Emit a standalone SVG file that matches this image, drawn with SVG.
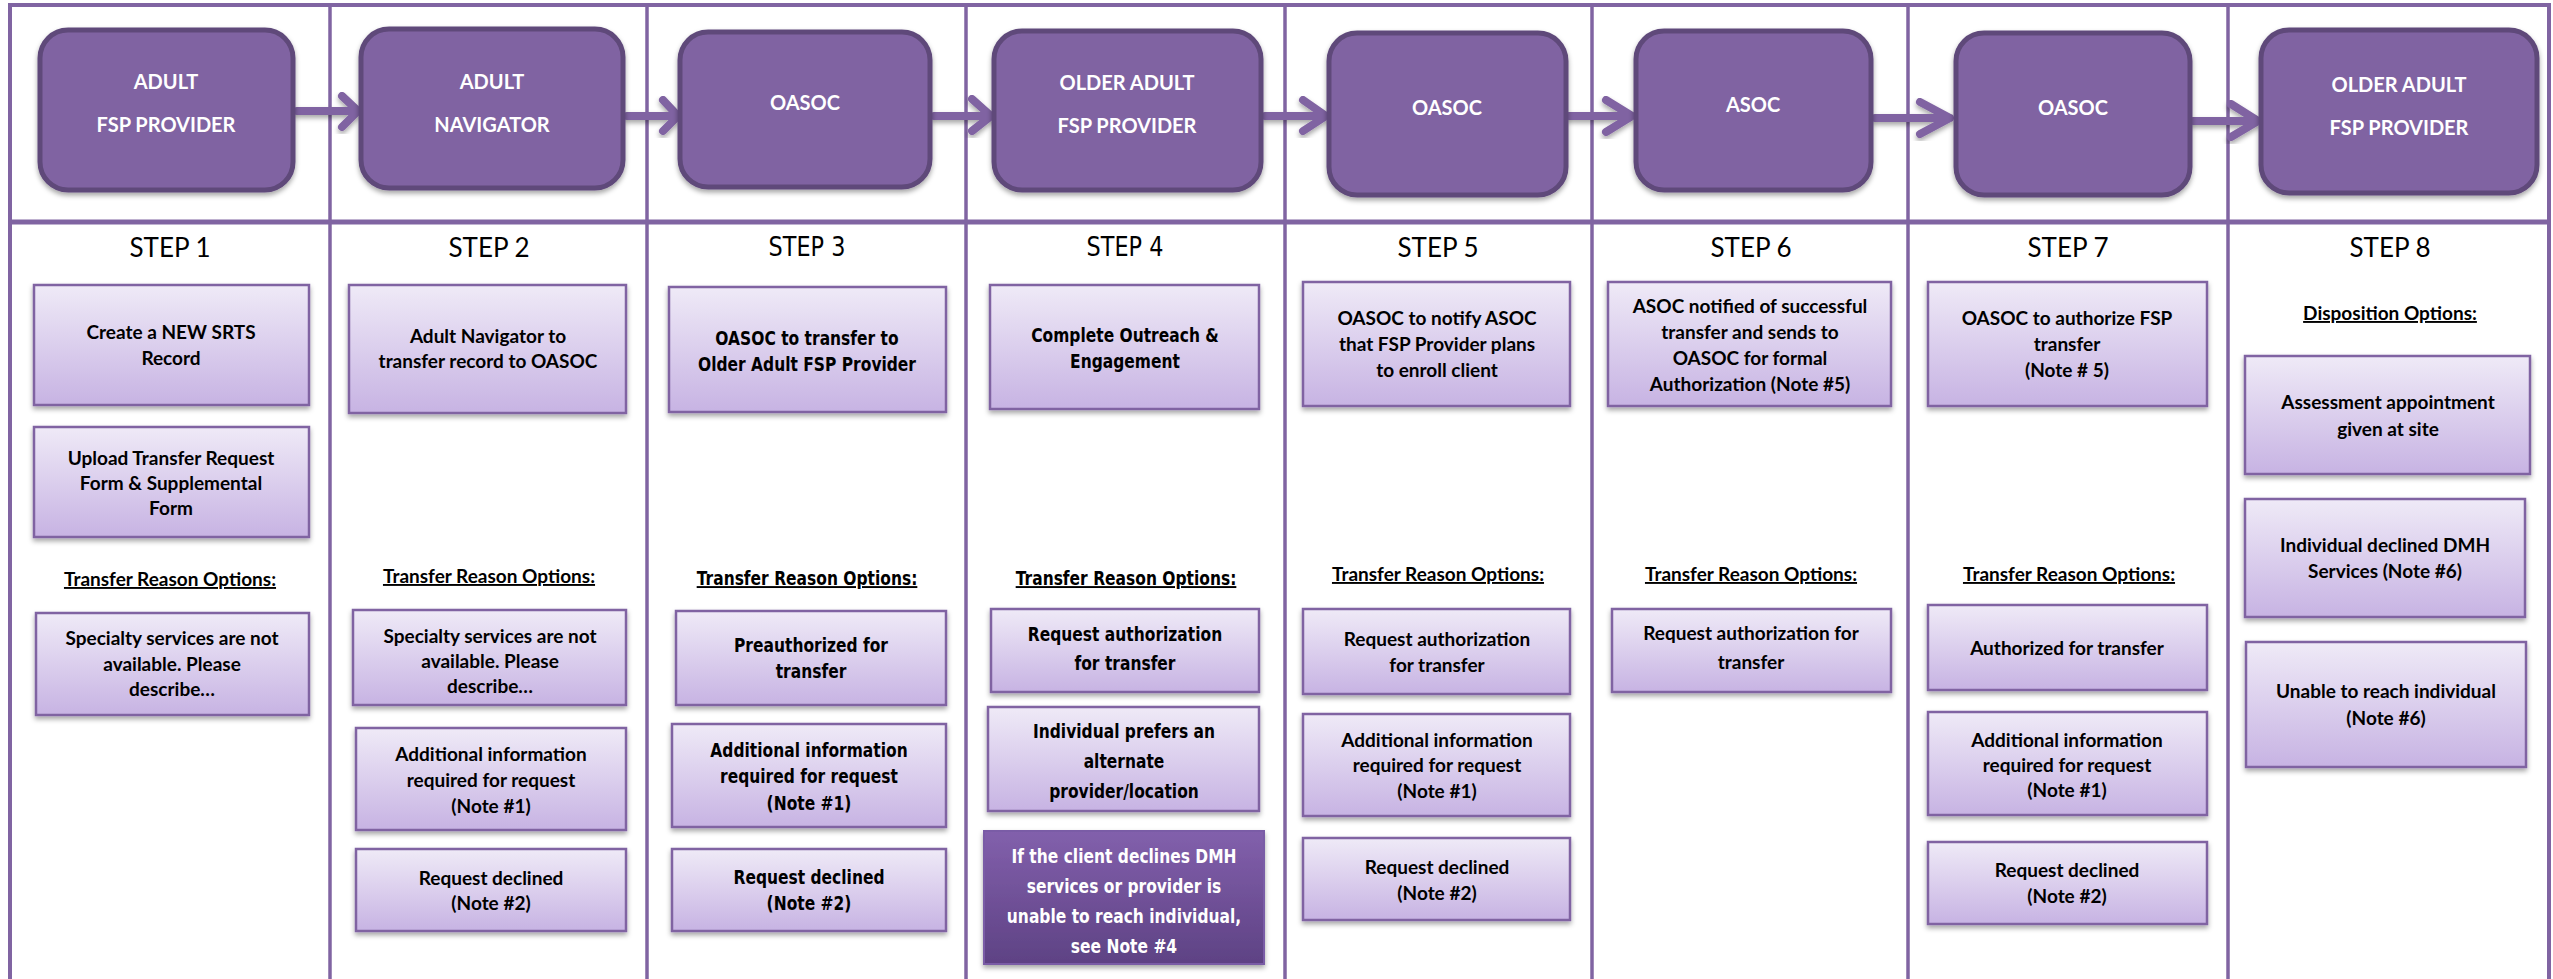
<svg xmlns="http://www.w3.org/2000/svg" width="2553" height="979" viewBox="0 0 2553 979">
<style>
.frame{stroke:#8064A2;fill:none}
.hdr{fill:#8064A2;stroke:#5F497A;stroke-width:5;filter:url(#sh)}
.ht{font-family:Lato,"Liberation Sans",sans-serif;font-weight:700;font-size:20px;fill:#fff;text-anchor:middle}
.lb{fill:url(#lg);stroke:#8064A2;stroke-width:2.5;filter:url(#sh)}
.db{fill:url(#lgd);stroke:#7A5BA6;stroke-width:2;filter:url(#sh)}
.bt{font-family:Lato,"Liberation Sans",sans-serif;font-weight:700;font-size:19px;fill:#000;text-anchor:middle}
.vt{font-family:"DejaVu Sans",Verdana,sans-serif;font-weight:700;font-size:19.2px}
.wt{fill:#fff}
.st{font-family:Lato,"Liberation Sans",sans-serif;font-size:26px;fill:#000;text-anchor:middle}
.sv{font-family:"DejaVu Sans",Verdana,sans-serif;font-size:26px}
.ul{text-decoration:underline}
.arr{stroke:#8064A2;stroke-width:8;fill:none;stroke-linecap:round;stroke-linejoin:round;filter:url(#sh)}
</style>
<defs>
<linearGradient id="lg" x1="0" y1="0" x2="0" y2="1">
<stop offset="0" stop-color="#EFEAF7"/>
<stop offset="1" stop-color="#C7B3E3"/>
</linearGradient>
<linearGradient id="lgd" x1="0" y1="0" x2="0" y2="1">
<stop offset="0" stop-color="#8260AC"/>
<stop offset="1" stop-color="#5E4284"/>
</linearGradient>
<filter id="sh" x="-10%" y="-10%" width="120%" height="130%">
<feDropShadow dx="0" dy="3" stdDeviation="2.5" flood-color="#000" flood-opacity="0.35"/>
</filter>
</defs>
<rect width="2553" height="979" fill="#fff"/>
<g id="frame">
<path class="frame" stroke-width="4" d="M10,979 V5 H2549 V979"/>
<line class="frame" stroke-width="5" x1="10" y1="222" x2="2549" y2="222"/>
<g stroke-width="3.5" class="frame">
<line x1="330" y1="5" x2="330" y2="979"/>
<line x1="647" y1="5" x2="647" y2="979"/>
<line x1="966" y1="5" x2="966" y2="979"/>
<line x1="1285" y1="5" x2="1285" y2="979"/>
<line x1="1592" y1="5" x2="1592" y2="979"/>
<line x1="1908" y1="5" x2="1908" y2="979"/>
<line x1="2228" y1="5" x2="2228" y2="979"/>
</g>
</g>
<g id="connectors">
<path class="arr" d="M297,111 H357 M342,96 L358,111 L342,127"/>
<path class="arr" d="M627,116 H677 M663,100 L678,116 L663,131"/>
<path class="arr" d="M934,116 H991 M972,99 L991,116 L972,131"/>
<path class="arr" d="M1265,116 H1326 M1303,100 L1326,116 L1303,131"/>
<path class="arr" d="M1569,116 H1632 M1606,100 L1632,116 L1606,132"/>
<path class="arr" d="M1875,118 H1950 M1920,102 L1950,118 L1920,134"/>
<path class="arr" d="M2193,121 H2258 M2231,104 L2258,121 L2231,137"/>
</g>
<g id="h1"><rect class="hdr" x="40" y="30" width="253" height="160" rx="28"/><text class="ht" x="166" y="89">ADULT</text><text class="ht" x="166" y="132">FSP PROVIDER</text></g>
<g id="h2"><rect class="hdr" x="361" y="29" width="262" height="159" rx="28"/><text class="ht" x="492" y="89">ADULT</text><text class="ht" x="492" y="132">NAVIGATOR</text></g>
<g id="h3"><rect class="hdr" x="680" y="32" width="250" height="155" rx="28"/><text class="ht" x="805" y="110">OASOC</text></g>
<g id="h4"><rect class="hdr" x="994" y="31" width="267" height="159" rx="28"/><text class="ht" x="1127" y="90">OLDER ADULT</text><text class="ht" x="1127" y="133">FSP PROVIDER</text></g>
<g id="h5"><rect class="hdr" x="1329" y="33" width="237" height="162" rx="28"/><text class="ht" x="1447" y="115">OASOC</text></g>
<g id="h6"><rect class="hdr" x="1636" y="31" width="235" height="159" rx="28"/><text class="ht" x="1753" y="112">ASOC</text></g>
<g id="h7"><rect class="hdr" x="1956" y="33" width="234" height="162" rx="28"/><text class="ht" x="2073" y="115">OASOC</text></g>
<g id="h8"><rect class="hdr" x="2261" y="30" width="276" height="163" rx="28"/><text class="ht" x="2399" y="92">OLDER ADULT</text><text class="ht" x="2399" y="135">FSP PROVIDER</text></g>

<g id="step1">
<text class="st" x="170" y="257">STEP 1</text>
<g id="s1b1"><rect class="lb" x="34" y="285" width="275" height="120"/><text class="bt" x="171" y="339">Create a NEW SRTS</text><text class="bt" x="171" y="365">Record</text></g>
<g id="s1b2"><rect class="lb" x="34" y="427" width="275" height="110"/><text class="bt" x="171" y="465">Upload Transfer Request</text><text class="bt" x="171" y="490">Form &amp; Supplemental</text><text class="bt" x="171" y="515">Form</text></g>
<text class="bt ul" x="170" y="586">Transfer Reason Options:</text>
<g id="s1b3"><rect class="lb" x="36" y="613" width="273" height="102"/><text class="bt" x="172" y="645">Specialty services are not</text><text class="bt" x="172" y="671">available. Please</text><text class="bt" x="172" y="696">describe…</text></g>
</g>

<g id="step2">
<text class="st" x="489" y="257">STEP 2</text>
<g id="s2b1"><rect class="lb" x="349" y="285" width="277" height="128"/><text class="bt" x="488" y="343">Adult Navigator to</text><text class="bt" x="488" y="368">transfer record to OASOC</text></g>
<text class="bt ul" x="489" y="583">Transfer Reason Options:</text>
<g id="s2b2"><rect class="lb" x="353" y="610" width="273" height="95"/><text class="bt" x="490" y="643">Specialty services are not</text><text class="bt" x="490" y="668">available. Please</text><text class="bt" x="490" y="693">describe…</text></g>
<g id="s2b3"><rect class="lb" x="356" y="728" width="270" height="102"/><text class="bt" x="491" y="761">Additional information</text><text class="bt" x="491" y="787">required for request</text><text class="bt" x="491" y="813">(Note #1)</text></g>
<g id="s2b4"><rect class="lb" x="356" y="849" width="270" height="82"/><text class="bt" x="491" y="885">Request declined</text><text class="bt" x="491" y="910">(Note #2)</text></g>
</g>

<g id="step3">
<text class="st sv" transform="translate(807,256) scale(0.86,1)">STEP 3</text>
<g id="s3b1"><rect class="lb" x="669" y="287" width="277" height="125"/><text class="bt vt" transform="translate(807,345) scale(0.807,1)">OASOC to transfer to</text><text class="bt vt" transform="translate(807,371) scale(0.807,1)">Older Adult FSP Provider</text></g>
<text class="bt vt ul" transform="translate(807,585) scale(0.807,1)">Transfer Reason Options:</text>
<g id="s3b2"><rect class="lb" x="676" y="611" width="270" height="94"/><text class="bt vt" transform="translate(811,652) scale(0.807,1)">Preauthorized for</text><text class="bt vt" transform="translate(811,678) scale(0.807,1)">transfer</text></g>
<g id="s3b3"><rect class="lb" x="672" y="724" width="274" height="103"/><text class="bt vt" transform="translate(809,757) scale(0.807,1)">Additional information</text><text class="bt vt" transform="translate(809,783) scale(0.807,1)">required for request</text><text class="bt vt" transform="translate(809,810) scale(0.807,1)">(Note #1)</text></g>
<g id="s3b4"><rect class="lb" x="672" y="849" width="274" height="82"/><text class="bt vt" transform="translate(809,884) scale(0.807,1)">Request declined</text><text class="bt vt" transform="translate(809,910) scale(0.807,1)">(Note #2)</text></g>
</g>

<g id="step4">
<text class="st sv" transform="translate(1125,256) scale(0.86,1)">STEP 4</text>
<g id="s4b1"><rect class="lb" x="990" y="285" width="269" height="124"/><text class="bt vt" transform="translate(1125,342) scale(0.807,1)">Complete Outreach &amp;</text><text class="bt vt" transform="translate(1125,368) scale(0.807,1)">Engagement</text></g>
<text class="bt vt ul" transform="translate(1126,585) scale(0.807,1)">Transfer Reason Options:</text>
<g id="s4b2"><rect class="lb" x="991" y="609" width="268" height="83"/><text class="bt vt" transform="translate(1125,641) scale(0.807,1)">Request authorization</text><text class="bt vt" transform="translate(1125,670) scale(0.807,1)">for transfer</text></g>
<g id="s4b3"><rect class="lb" x="988" y="707" width="271" height="104"/><text class="bt vt" transform="translate(1124,738) scale(0.807,1)">Individual prefers an</text><text class="bt vt" transform="translate(1124,768) scale(0.807,1)">alternate</text><text class="bt vt" transform="translate(1124,798) scale(0.807,1)">provider/location</text></g>
<g id="s4b4"><rect class="db" x="984" y="831" width="280" height="133"/><text class="bt vt wt" transform="translate(1124,863) scale(0.807,1)">If the client declines DMH</text><text class="bt vt wt" transform="translate(1124,893) scale(0.807,1)">services or provider is</text><text class="bt vt wt" transform="translate(1124,923) scale(0.807,1)">unable to reach individual,</text><text class="bt vt wt" transform="translate(1124,953) scale(0.807,1)">see Note #4</text></g>
</g>

<g id="step5">
<text class="st" x="1438" y="257">STEP 5</text>
<g id="s5b1"><rect class="lb" x="1303" y="282" width="267" height="124"/><text class="bt" x="1437" y="325">OASOC to notify ASOC</text><text class="bt" x="1437" y="351">that FSP Provider plans</text><text class="bt" x="1437" y="377">to enroll client</text></g>
<text class="bt ul" x="1438" y="581">Transfer Reason Options:</text>
<g id="s5b2"><rect class="lb" x="1303" y="609" width="267" height="85"/><text class="bt" x="1437" y="646">Request authorization</text><text class="bt" x="1437" y="672">for transfer</text></g>
<g id="s5b3"><rect class="lb" x="1303" y="714" width="267" height="102"/><text class="bt" x="1437" y="747">Additional information</text><text class="bt" x="1437" y="772">required for request</text><text class="bt" x="1437" y="798">(Note #1)</text></g>
<g id="s5b4"><rect class="lb" x="1303" y="838" width="267" height="82"/><text class="bt" x="1437" y="874">Request declined</text><text class="bt" x="1437" y="900">(Note #2)</text></g>
</g>

<g id="step6">
<text class="st" x="1751" y="257">STEP 6</text>
<g id="s6b1"><rect class="lb" x="1608" y="282" width="283" height="124"/><text class="bt" x="1750" y="313">ASOC notified of successful</text><text class="bt" x="1750" y="339">transfer and sends to</text><text class="bt" x="1750" y="365">OASOC for formal</text><text class="bt" x="1750" y="391">Authorization (Note #5)</text></g>
<text class="bt ul" x="1751" y="581">Transfer Reason Options:</text>
<g id="s6b2"><rect class="lb" x="1612" y="609" width="279" height="83"/><text class="bt" x="1751" y="640">Request authorization for</text><text class="bt" x="1751" y="669">transfer</text></g>
</g>

<g id="step7">
<text class="st" x="2068" y="257">STEP 7</text>
<g id="s7b1"><rect class="lb" x="1928" y="282" width="279" height="124"/><text class="bt" x="2067" y="325">OASOC to authorize FSP</text><text class="bt" x="2067" y="351">transfer</text><text class="bt" x="2067" y="377">(Note # 5)</text></g>
<text class="bt ul" x="2069" y="581">Transfer Reason Options:</text>
<g id="s7b2"><rect class="lb" x="1928" y="605" width="279" height="85"/><text class="bt" x="2067" y="655">Authorized for transfer</text></g>
<g id="s7b3"><rect class="lb" x="1928" y="712" width="279" height="103"/><text class="bt" x="2067" y="747">Additional information</text><text class="bt" x="2067" y="772">required for request</text><text class="bt" x="2067" y="797">(Note #1)</text></g>
<g id="s7b4"><rect class="lb" x="1928" y="842" width="279" height="82"/><text class="bt" x="2067" y="877">Request declined</text><text class="bt" x="2067" y="903">(Note #2)</text></g>
</g>

<g id="step8">
<text class="st" x="2390" y="257">STEP 8</text>
<text class="bt ul" x="2390" y="320">Disposition Options:</text>
<g id="s8b1"><rect class="lb" x="2245" y="356" width="285" height="118"/><text class="bt" x="2388" y="409">Assessment appointment</text><text class="bt" x="2388" y="436">given at site</text></g>
<g id="s8b2"><rect class="lb" x="2245" y="499" width="280" height="118"/><text class="bt" x="2385" y="552">Individual declined DMH</text><text class="bt" x="2385" y="578">Services (Note #6)</text></g>
<g id="s8b3"><rect class="lb" x="2246" y="642" width="280" height="125"/><text class="bt" x="2386" y="698">Unable to reach individual</text><text class="bt" x="2386" y="725">(Note #6)</text></g>
</g>
</svg>
